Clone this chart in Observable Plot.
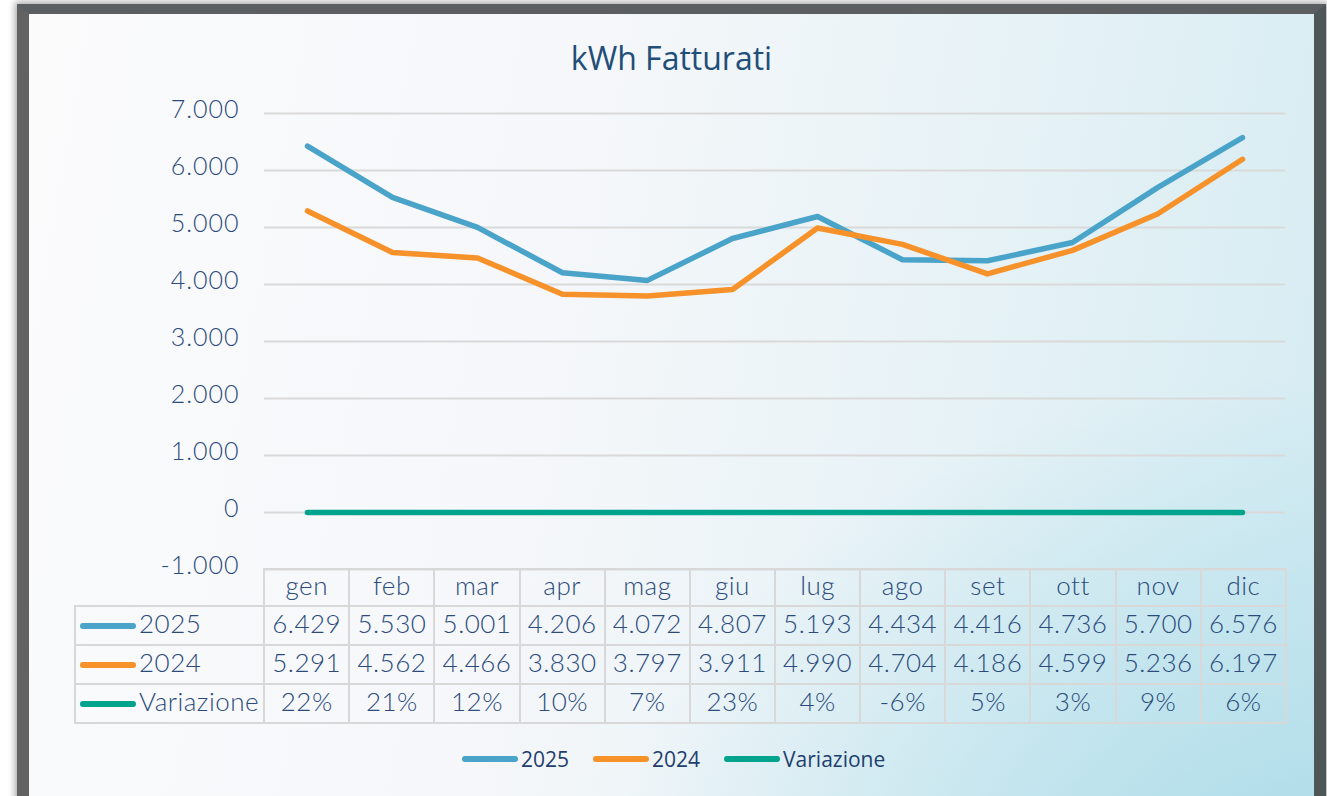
<!DOCTYPE html>
<html><head><meta charset="utf-8">
<script src="https://cdn.jsdelivr.net/npm/d3@7"></script>
<script src="https://cdn.jsdelivr.net/npm/@observablehq/plot@0.6"></script>
<style>
html,body{margin:0;padding:0;background:#fff;}
#root{position:relative;width:1327px;height:796px;overflow:hidden;background:#fff;}
#frame{position:absolute;left:17px;top:4px;width:1285px;height:900px;border-style:solid;
  border-width:10px 12px 0 12px;border-color:#5c5f61 #4e5658 #5c5f61 #626262;
  box-shadow:0 0 7px 2px rgba(0,0,0,0.35);
  background:
    radial-gradient(ellipse 55% 60% at 100% 100%, rgba(170,219,232,1) 0%, rgba(170,219,232,0) 100%),
    linear-gradient(100deg, #fbfbfc 0%, #f5f7fa 40%, #e6f2f6 70%, #d3ebf2 100%);}
#title{position:absolute;left:0;width:1343px;top:36px;text-align:center;font-family:"Open Sans",sans-serif;font-size:32px;color:#1f4e79;}
#chart{position:absolute;left:0;top:0;}
#tbl{position:absolute;left:74px;top:568px;border-collapse:collapse;table-layout:fixed;width:1213px;
  font-family:Lato,sans-serif;font-weight:300;font-size:26px;color:#2b4b7b;letter-spacing:0.5px;}
#tbl td{border:2px solid #d8d8d8;text-align:center;padding:0 0 5px 0;white-space:nowrap;overflow:hidden;line-height:1;}
#tbl tr.head td{height:30px;}
#tbl tr.body td{height:32px;}
#tbl td.blank{border-top:none;border-left:none;}
#tbl td.lab{text-align:left;padding-left:4px;}
.sw{display:inline-block;width:56px;height:6px;border-radius:3px;vertical-align:middle;margin-right:3px;position:relative;top:-1px;}
#legend{position:absolute;left:462px;top:745px;display:flex;align-items:center;font-family:"Open Sans",sans-serif;font-weight:500;font-size:21px;color:#1f3e6e;}
#legend .it{display:flex;align-items:center;margin-right:24px;}
#legend .ls{width:56px;height:6px;border-radius:3px;margin-right:3px;}
</style></head>
<body><div id="root"><div id="frame"></div><div id="title">kWh Fatturati</div></div>
<script>
const months = ["gen","feb","mar","apr","mag","giu","lug","ago","set","ott","nov","dic"];
const kwh2025 = [6429,5530,5001,4206,4072,4807,5193,4434,4416,4736,5700,6576];
const kwh2024 = [5291,4562,4466,3830,3797,3911,4990,4704,4186,4599,5236,6197];
const variazione = [0.22,0.21,0.12,0.10,0.07,0.23,0.04,-0.06,0.05,0.03,0.09,0.06];
const seriesNames = ["2025","2024","Variazione"];
const seriesColors = ["#4aa3c9","#f7922a","#00a48c"];
const yTicks = [-1000,0,1000,2000,3000,4000,5000,6000,7000];

const it = d3.formatLocale({decimal:",",thousands:".",grouping:[3],currency:["€",""],minus:"-"});
const fmtNum = it.format(",d");
const fmtPct = it.format(".0%");

const seriesValues = [kwh2025, kwh2024, variazione];
const data = [];
seriesNames.forEach((s, k) => months.forEach((m, i) => data.push({month:m, series:s, value:seriesValues[k][i]})));

const chart = Plot.plot({
  width:1327, height:600, marginLeft:264, marginRight:42, marginTop:113, marginBottom:31,
  style:{background:"transparent", color:"#2b4b7b", fontFamily:"Lato, sans-serif", overflow:"visible"},
  x:{type:"point", domain:months, padding:0.5, axis:null},
  y:{domain:[-1000,7000], axis:null},
  color:{domain:seriesNames, range:seriesColors},
  marks:[
    Plot.gridY(yTicks, {stroke:"#d9d9d9", strokeOpacity:1, strokeWidth:2}),
    Plot.axisY(yTicks, {tickSize:0, tickPadding:25, fontSize:25, fontWeight:300, tickFormat:fmtNum, label:null, dy:-4, fill:"#2b4b7b"}),
    Plot.line(data, {x:"month", y:"value", stroke:"series", z:"series", strokeWidth:5.5, strokeLinecap:"round", strokeLinejoin:"round"})
  ]
});
chart.id = "chart";
chart.style.letterSpacing = "1px";
document.getElementById("root").appendChild(chart);

// data table
const tbl = document.createElement("table");
tbl.id = "tbl";
const cg = document.createElement("colgroup");
[189, ...months.map(() => 1021/12)].forEach(w => { const c = document.createElement("col"); c.style.width = w + "px"; cg.appendChild(c); });
tbl.appendChild(cg);
const head = document.createElement("tr"); head.className = "head";
const b = document.createElement("td"); b.className = "blank"; head.appendChild(b);
months.forEach(m => { const td = document.createElement("td"); td.textContent = m; head.appendChild(td); });
tbl.appendChild(head);
const fmts = [fmtNum, fmtNum, fmtPct];
seriesNames.forEach((s, k) => {
  const tr = document.createElement("tr"); tr.className = "body";
  const lab = document.createElement("td"); lab.className = "lab";
  const sw = document.createElement("span"); sw.className = "sw"; sw.style.background = seriesColors[k];
  lab.appendChild(sw); lab.appendChild(document.createTextNode(s));
  tr.appendChild(lab);
  seriesValues[k].forEach(v => { const td = document.createElement("td"); td.textContent = fmts[k](v); tr.appendChild(td); });
  tbl.appendChild(tr);
});
document.getElementById("root").appendChild(tbl);

// legend
const lg = document.createElement("div"); lg.id = "legend";
seriesNames.forEach((s, k) => {
  const itEl = document.createElement("div"); itEl.className = "it";
  const ls = document.createElement("div"); ls.className = "ls"; ls.style.background = seriesColors[k];
  const tx = document.createElement("span"); tx.textContent = s;
  itEl.appendChild(ls); itEl.appendChild(tx); lg.appendChild(itEl);
});
document.getElementById("root").appendChild(lg);
</script></body></html>
